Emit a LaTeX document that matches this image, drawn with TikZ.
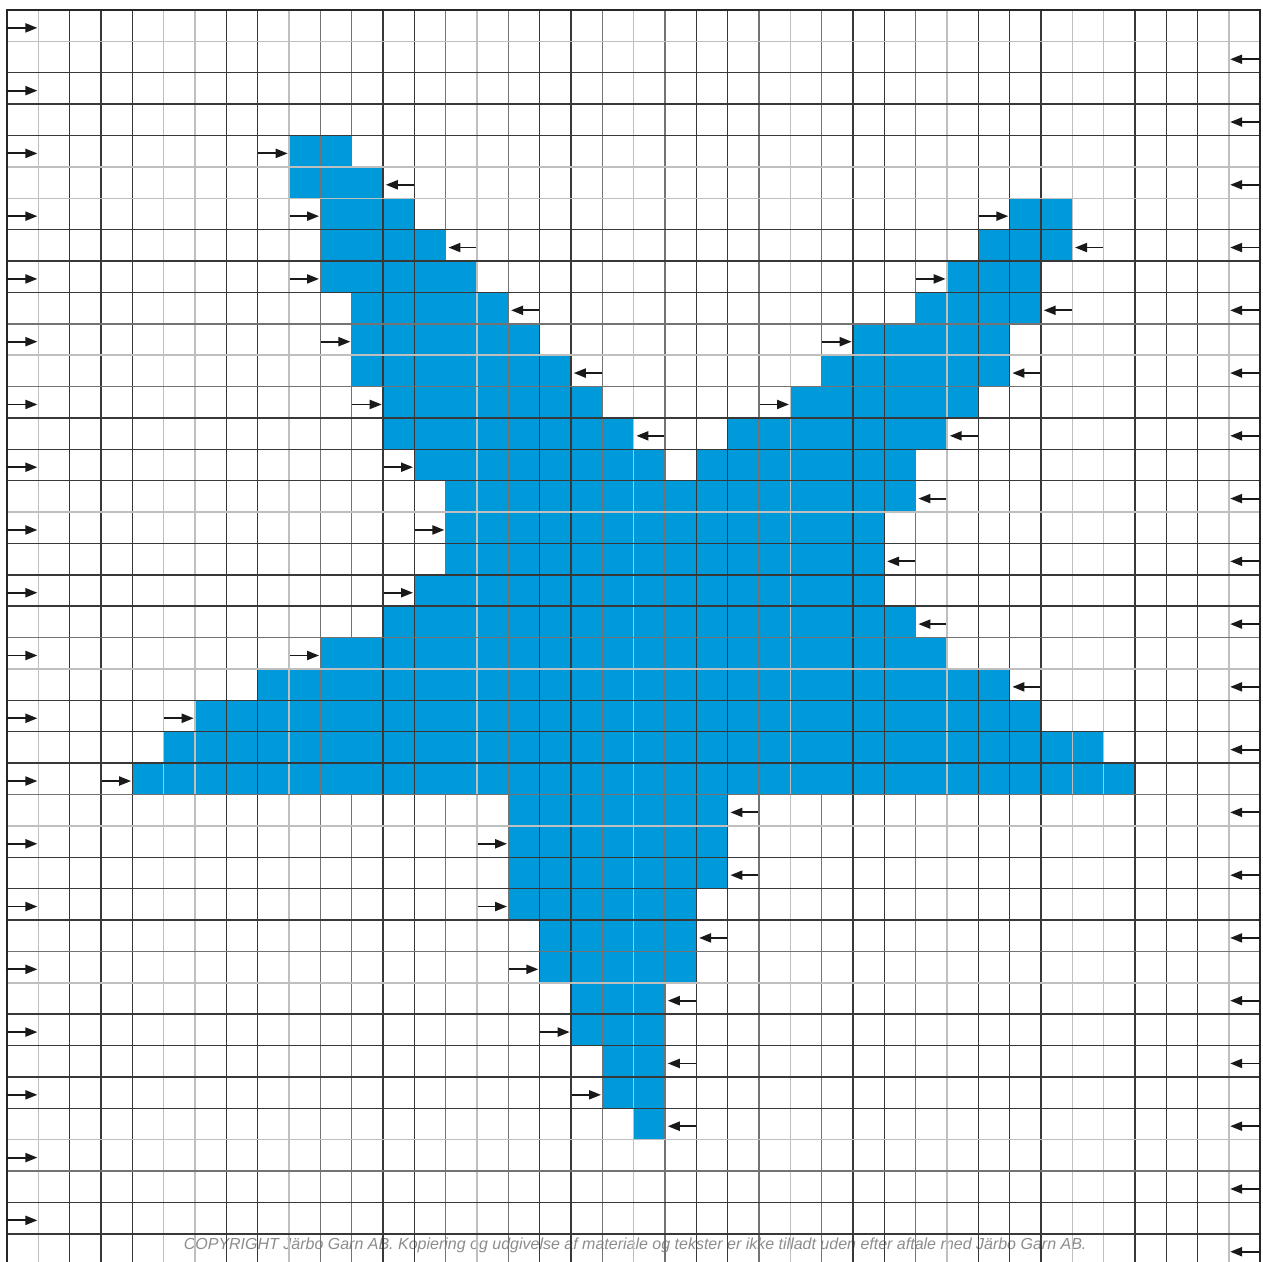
\documentclass[tikz,border=0pt]{standalone}
\usepackage{fontspec}
\setmainfont{Liberation Sans}
\usetikzlibrary{arrows.meta}
\definecolor{starblue}{RGB}{0,153,218}
\begin{document}
\begin{tikzpicture}[x=23.4975pt,y=-23.535pt,
  gD/.style={line width=1.1pt, draw=black!78},
  gM/.style={line width=1.1pt, draw=black!55},
  gL/.style={line width=1.1pt, draw=black!25},
  frame/.style={line width=1.9pt, draw=black!85},
  arr/.style={line width=1.4pt, draw=black!90, -{Triangle[length=9pt,width=6.8pt]}},
  cellfill/.style={fill=starblue}]
\path[use as bounding box] (-0.2234,-0.3187) rectangle (40.089,39.866);
\clip (-0.2234,-0.3187) rectangle (40.089,39.866);
% star cells
\foreach \r/\a/\b in {4/9/10,5/9/11,6/10/12,6/32/33,7/10/13,7/31/33,8/10/14,8/30/32,
  9/11/15,9/29/32,10/11/16,10/27/31,11/11/17,11/26/31,12/12/18,12/25/30,
  13/12/19,13/23/29,14/13/20,14/22/28,15/14/28,16/14/27,17/14/27,18/13/27,
  19/12/28,20/10/29,21/8/31,22/6/32,23/5/34,24/4/35,25/16/22,26/16/22,27/16/22,
  28/16/21,29/17/21,30/17/21,31/18/20,32/18/20,33/19/20,34/19/20,35/20/20}
  \fill[cellfill] (\a,\r) rectangle (\b+1,\r+1);
% copyright
\node[font=\itshape\fontsize{12}{14}\selectfont, text=black!45, inner sep=0pt] (copy) at (20.05,39.38)
  {COPYRIGHT Järbo Garn AB. Kopiering og udgivelse af materiale og tekster er ikke tilladt uden efter aftale med Järbo Garn AB.};
% grid
\foreach \i/\s in {1/L,2/D,3/D,4/D,5/L,6/L,7/D,8/D,9/L,10/M,11/M,12/D,13/D,14/M,15/L,16/M,17/D,18/D,19/M,20/L,
  21/M,22/D,23/D,24/M,25/L,26/M,27/D,28/D,29/M,30/L,31/D,32/D,33/D,34/L,35/L,36/D,37/D,38/D,39/L}
  \draw[g\s] (\i,0) -- (\i,40);
\foreach \j/\s in {1/L,2/D,3/D,4/D,5/L,6/L,7/D,8/D,9/D,10/M,11/L,12/M,13/D,14/D,15/D,16/L,17/D,18/D,19/D,20/M,
  21/L,22/D,23/D,24/D,25/M,26/L,27/D,28/D,29/D,30/M,31/L,32/D,33/D,34/D,35/D,36/L,37/M,38/D,39/D}
  \draw[g\s] (0,\j) -- (40,\j);
\draw[frame] (0,40) -- (0,0) -- (40,0) -- (40,40);
% edge arrows
\foreach \r in {0,2,...,38}
  \draw[arr] (0,\r+0.57) -- (0.97,\r+0.57);
\foreach \r in {1,3,...,39}
  \draw[arr] (40,\r+0.57) -- (39.04,\r+0.57);
% inner arrows pointing right
\foreach \r/\c in {4/8,6/9,8/9,10/10,12/11,14/12,16/13,18/12,20/9,22/5,24/3,
  26/15,28/15,30/16,32/17,34/18,6/31,8/29,10/26,12/24}
  \draw[arr] (\c+0.02,\r+0.57) -- (\c+0.96,\r+0.57);
% inner arrows pointing left
\foreach \r/\c in {5/12,7/14,9/16,11/18,13/20,7/34,9/33,11/32,13/30,15/29,17/28,19/29,21/32,
  25/23,27/23,29/22,31/21,33/21,35/21}
  \draw[arr] (\c+0.98,\r+0.57) -- (\c+0.09,\r+0.57);
\end{tikzpicture}
\end{document}
